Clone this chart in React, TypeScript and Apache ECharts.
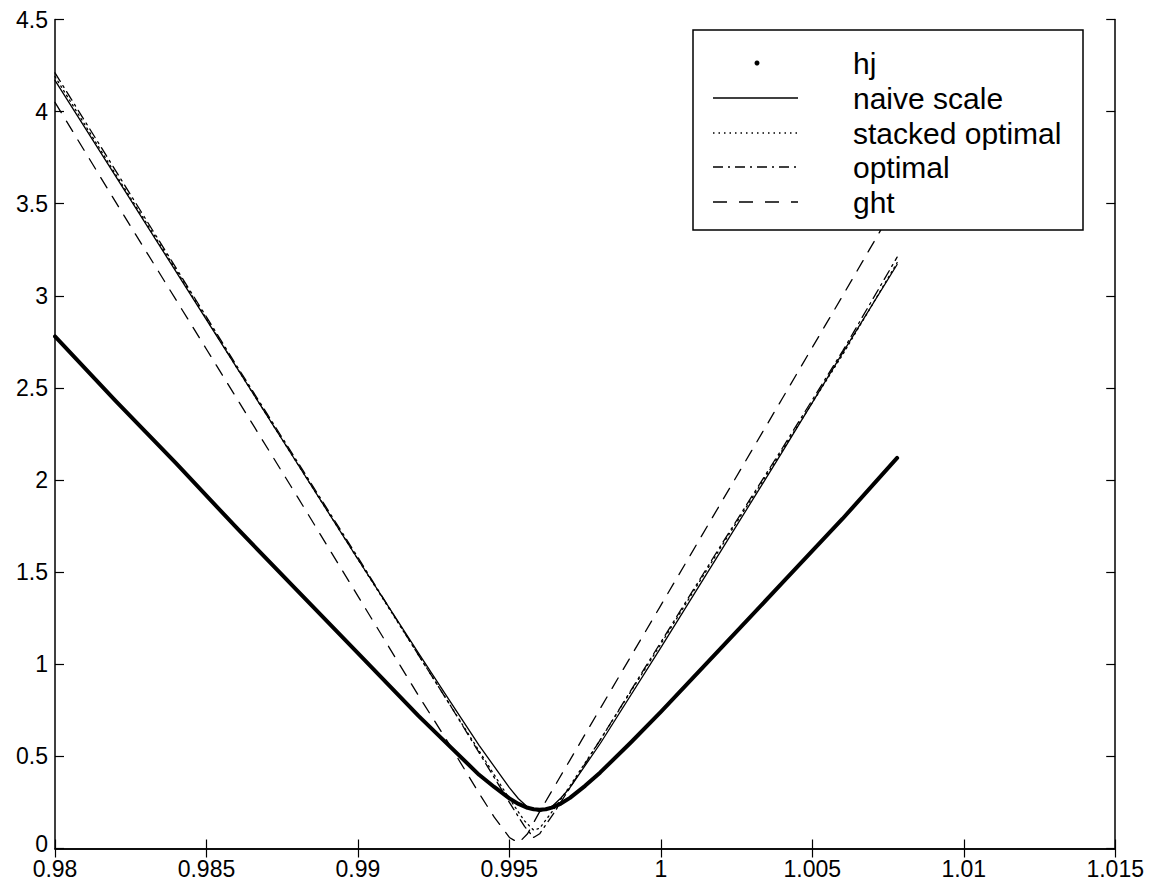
import React, { useEffect, useRef } from "react";
import * as echarts from "echarts";

// x-axis ticks and y-axis ticks
const xTicks = [0.98, 0.985, 0.99, 0.995, 1, 1.005, 1.01, 1.015];
const yTicks = [0, 0.5, 1, 1.5, 2, 2.5, 3, 3.5, 4, 4.5];

// hj (thick curve)
const hjX = [0.98, 0.982, 0.984, 0.986, 0.988, 0.99, 0.992, 0.993, 0.994, 0.9945, 0.995, 0.9953, 0.9956, 0.9958, 0.996, 0.9962, 0.9964, 0.9967, 0.997, 0.9975, 0.998, 0.999, 1.0, 1.002, 1.004, 1.006, 1.0078];
const hjY = [2.78, 2.43, 2.09, 1.74, 1.40, 1.06, 0.72, 0.56, 0.40, 0.334, 0.272, 0.242, 0.221, 0.213, 0.21, 0.213, 0.222, 0.244, 0.275, 0.34, 0.413, 0.574, 0.742, 1.09, 1.44, 1.79, 2.12];

// naive scale
const naiveX = [0.98, 0.982, 0.984, 0.986, 0.988, 0.99, 0.992, 0.993, 0.994, 0.995, 0.9953, 0.9956, 0.996, 0.9964, 0.9967, 0.997, 0.998, 1.0, 1.002, 1.004, 1.006, 1.0078];
const naiveY = [4.17, 3.65, 3.13, 2.61, 2.09, 1.57, 1.06, 0.81, 0.56, 0.33, 0.27, 0.225, 0.20, 0.227, 0.274, 0.33, 0.57, 1.09, 1.62, 2.15, 2.69, 3.17];

// stacked optimal
const stackedX = [0.98, 0.982, 0.984, 0.986, 0.988, 0.99, 0.992, 0.993, 0.994, 0.995, 0.9955, 0.9958, 0.996, 0.9965, 0.997, 0.998, 1.0, 1.002, 1.004, 1.006, 1.0078];
const stackedY = [4.19, 3.66, 3.14, 2.61, 2.09, 1.57, 1.05, 0.79, 0.53, 0.27, 0.15, 0.10, 0.11, 0.22, 0.34, 0.59, 1.11, 1.64, 2.16, 2.68, 3.18];

// optimal
const optimalX = [0.98, 0.982, 0.984, 0.986, 0.988, 0.99, 0.992, 0.993, 0.994, 0.995, 0.9955, 0.9958, 0.996, 0.9965, 0.997, 0.998, 1.0, 1.002, 1.004, 1.006, 1.0078];
const optimalY = [4.21, 3.68, 3.15, 2.62, 2.10, 1.58, 1.05, 0.79, 0.52, 0.25, 0.12, 0.06, 0.08, 0.20, 0.33, 0.59, 1.12, 1.65, 2.17, 2.70, 3.21];

// ght
const ghtX = [0.98, 0.982, 0.985, 0.988, 0.99, 0.992, 0.993, 0.994, 0.9945, 0.995, 0.9953, 0.9956, 0.996, 0.997, 0.998, 1.0, 1.002, 1.004, 1.006, 1.0078];
const ghtY = [4.05, 3.51, 2.71, 1.91, 1.37, 0.83, 0.57, 0.30, 0.17, 0.06, 0.03, 0.08, 0.20, 0.48, 0.76, 1.32, 1.88, 2.44, 3.00, 3.51];

const legendNames = ["hj", "naive scale", "stacked optimal", "optimal", "ght"];

const FONT = "Liberation Sans, Arial, Helvetica, sans-serif";

const zip = (xs: number[], ys: number[]) => xs.map((x, i) => [x, ys[i]]);
const fmt = (v: number) => String(parseFloat(v.toFixed(4)));

export default function App() {
  const ref = useRef<HTMLDivElement>(null);
  useEffect(() => {
    if (!ref.current) return;
    const chart = echarts.init(ref.current, undefined, { renderer: "svg" });
    const axisLine = { show: true, lineStyle: { color: "#000", width: 1.5 } };
    const tick = { show: true, inside: true, length: 9, lineStyle: { color: "#000", width: 1.2 } };
    const xMin = xTicks[0];
    const xMax = xTicks[xTicks.length - 1];
    const yMin = yTicks[0];
    const yMax = yTicks[yTicks.length - 1];
    const lineSeries = (name: string, data: number[][], width: number, type: any) => ({
      name,
      type: "line",
      data,
      symbol: "none",
      smooth: false,
      lineStyle: { color: "#000", width, type, join: "round", cap: "round" },
      z: 2,
    });

    const rows = [55, 90, 125, 159, 194];
    const lx1 = 705;
    const lx2 = 790;
    const dashes: any[] = [null, null, [1.5, 4], [10, 5, 2, 5], [14, 12]];
    const Z = 100;
    const legendChildren: any[] = [
      {
        type: "rect",
        z: Z,
        shape: { x: 685, y: 22, width: 390, height: 200 },
        style: { fill: "#fff", stroke: "#000", lineWidth: 1.5 },
      },
      {
        type: "circle",
        z: Z + 1,
        shape: { cx: 749, cy: rows[0], r: 2.5 },
        style: { fill: "#000" },
      },
    ];
    for (let i = 1; i < 5; i++) {
      legendChildren.push({
        type: "line",
        z: Z + 1,
        shape: { x1: lx1, y1: rows[i], x2: lx2, y2: rows[i] },
        style: { stroke: "#000", lineWidth: 1.3, lineDash: dashes[i] || undefined },
      });
    }
    legendNames.forEach((n, i) => {
      legendChildren.push({
        type: "text",
        z: Z + 1,
        x: 845,
        y: rows[i],
        style: {
          text: n,
          fill: "#000",
          fontSize: 30,
          fontFamily: FONT,
          textVerticalAlign: "middle",
          textAlign: "left",
        },
      });
    });

    chart.setOption({
      animation: false,
      backgroundColor: "#fff",
      grid: { left: 47, top: 10, width: 1062, height: 834, containLabel: false },
      xAxis: [
        {
          type: "value",
          min: xMin,
          max: xMax,
          interval: 0.005,
          axisLine,
          axisTick: tick,
          splitLine: { show: false },
          axisLabel: {
            color: "#000",
            fontSize: 23,
            fontFamily: FONT,
            margin: 9,
            lineHeight: 22,
            formatter: (v: number) => fmt(v),
            showMinLabel: true,
            showMaxLabel: true,
          },
        },
        {
          type: "value",
          position: "top",
          min: xMin,
          max: xMax,
          interval: 0.005,
          axisLine,
          axisTick: tick,
          splitLine: { show: false },
          axisLabel: { show: false },
        },
      ],
      yAxis: [
        {
          type: "value",
          min: yMin,
          max: yMax,
          interval: 0.5,
          axisLine,
          axisTick: tick,
          splitLine: { show: false },
          axisLabel: {
            color: "#000",
            fontSize: 23,
            fontFamily: FONT,
            margin: 7,
            lineHeight: 16,
            formatter: (v: number) => (v === 0 ? "{z|0}" : fmt(v)),
            rich: {
              z: { fontSize: 23, fontFamily: FONT, color: "#000", lineHeight: 16, padding: [0, 0, 10, 0] },
            },
            showMinLabel: true,
            showMaxLabel: true,
          },
        },
        {
          type: "value",
          position: "right",
          min: yMin,
          max: yMax,
          interval: 0.5,
          axisLine,
          axisTick: tick,
          splitLine: { show: false },
          axisLabel: { show: false },
        },
      ],
      series: [
        lineSeries("hj", zip(hjX, hjY), 4, "solid"),
        lineSeries("naive scale", zip(naiveX, naiveY), 1.3, "solid"),
        lineSeries("stacked optimal", zip(stackedX, stackedY), 1.3, [1.5, 4]),
        lineSeries("optimal", zip(optimalX, optimalY), 1.3, [10, 5, 2, 5]),
        lineSeries("ght", zip(ghtX, ghtY), 1.3, [12, 10]),
      ],
      graphic: legendChildren,
    });
    return () => chart.dispose();
  }, []);
  return <div ref={ref} style={{ width: 1139, height: 872 }} />;
}
